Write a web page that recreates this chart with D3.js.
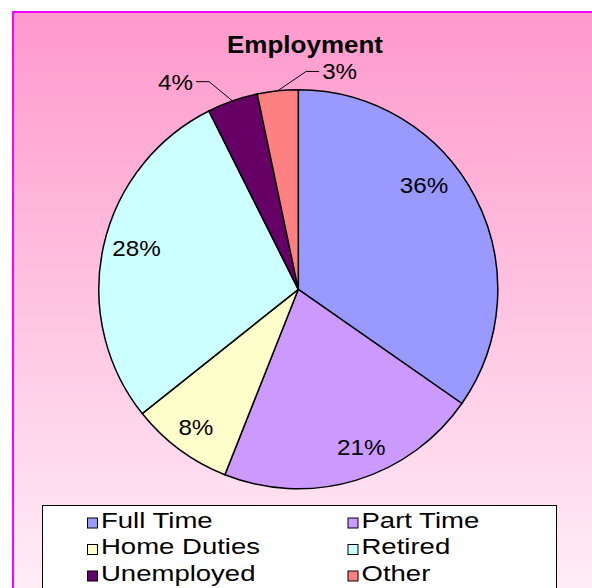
<!DOCTYPE html>
<html>
<head>
<meta charset="utf-8">
<script src="https://cdn.jsdelivr.net/npm/d3@7"></script>
<style>
  html, body { margin: 0; padding: 0; background: #fff; }
  svg { display: block; font-family: "Liberation Sans", Arial, sans-serif; }
</style>
</head>
<body>
<div id="chart"></div>
<script>
// data
const categories = ["Full Time", "Part Time", "Home Duties", "Retired", "Unemployed", "Other"];
const values = [34.7, 21.3, 8.3, 28.3, 4.1, 3.3];
const pctLabels = ["36%", "21%", "8%", "28%", "4%", "3%"];
const colors = ["#9999FF", "#CC99FF", "#FFFFCC", "#CCFFFF", "#660066", "#FF8080"];

// label placement (angle nudge in degrees, radius, outside with leader)
const labelPlace = [
  {da: -12, r: 163},
  {da: -5, r: 170},
  {da: 0, r: 172},
  {da: 2, r: 167},
  {da: -4, r: 226, outside: true},
  {da: 8, r: 218, outside: true}
];

const width = 592, height = 588;
const cx = 298.3, cy = 289.3, radius = 199.5;

const svg = d3.select("#chart").append("svg")
  .attr("width", width)
  .attr("height", height);

const grad = svg.append("defs").append("linearGradient")
  .attr("id", "bg")
  .attr("x1", 0).attr("y1", 0).attr("x2", 0).attr("y2", 1);
grad.append("stop").attr("offset", "0%").attr("stop-color", "#FF99CC");
grad.append("stop").attr("offset", "100%").attr("stop-color", "#FFFFFF");

svg.append("rect")
  .attr("x", 13).attr("y", 12)
  .attr("width", 620).attr("height", 700)
  .attr("fill", "url(#bg)")
  .attr("stroke", "#FF00FF")
  .attr("stroke-width", 2);

// title
svg.append("text")
  .attr("transform", "translate(305,53) scale(1.13,1)")
  .attr("text-anchor", "middle")
  .style("font-size", "23px")
  .style("font-weight", "bold")
  .text("Employment");

const pie = d3.pie().sort(null).value(d => d);
const arcs = pie(values);
const arc = d3.arc().innerRadius(0).outerRadius(radius);

const g = svg.append("g").attr("transform", "translate(" + cx + "," + cy + ")");

g.selectAll("path.slice")
  .data(arcs)
  .enter()
  .append("path")
  .attr("class", "slice")
  .attr("d", arc)
  .attr("fill", (d, i) => colors[i])
  .attr("stroke", "#000")
  .attr("stroke-width", 1.5)
  .attr("stroke-linejoin", "round");

arcs.forEach((d, i) => {
  const p = labelPlace[i];
  const mid = (d.startAngle + d.endAngle) / 2;
  const a = mid + p.da * Math.PI / 180;
  if (!p.outside) {
    const [x, y] = d3.pointRadial(a, p.r);
    g.append("text")
      .attr("transform", "translate(" + x + "," + y + ") scale(1.1,1)")
      .attr("text-anchor", "middle")
      .attr("dy", "0.36em")
      .style("font-size", "22px")
      .text(pctLabels[i]);
  } else {
    const s = d3.pointRadial(mid, radius);
    const e = d3.pointRadial(a, p.r);
    const side = e[0] < 0 ? -1 : 1;
    const end = [e[0] + side * 13, e[1]];
    g.append("path")
      .attr("d", d3.line()([s, e, end]))
      .attr("fill", "none")
      .attr("stroke", "#000")
      .attr("stroke-width", 1);
    g.append("text")
      .attr("transform", "translate(" + (end[0] + side * 3) + "," + end[1] + ") scale(1.1,1)")
      .attr("text-anchor", side < 0 ? "end" : "start")
      .attr("dy", "0.36em")
      .style("font-size", "22px")
      .text(pctLabels[i]);
  }
});

// legend
const legend = svg.append("g");
legend.append("rect")
  .attr("x", 42.5).attr("y", 505.5)
  .attr("width", 514).attr("height", 100)
  .attr("fill", "#fff")
  .attr("stroke", "#000")
  .attr("stroke-width", 1);

const colX = [87, 347.5];
const rowY = [527.5, 554, 580.5];

const items = legend.selectAll("g.item")
  .data(categories)
  .enter()
  .append("g")
  .attr("class", "item")
  .attr("transform", (d, i) => "translate(" + colX[i % 2] + "," + rowY[Math.floor(i / 2)] + ")");

items.append("rect")
  .attr("x", 0.5).attr("y", -9.5)
  .attr("width", 10).attr("height", 10)
  .attr("fill", (d, i) => colors[i])
  .attr("stroke", "#000")
  .attr("stroke-width", 1);

items.append("text")
  .attr("transform", "translate(14,0) scale(1.28,1)")
  .style("font-size", "21.5px")
  .text(d => d);
</script>
</body>
</html>
